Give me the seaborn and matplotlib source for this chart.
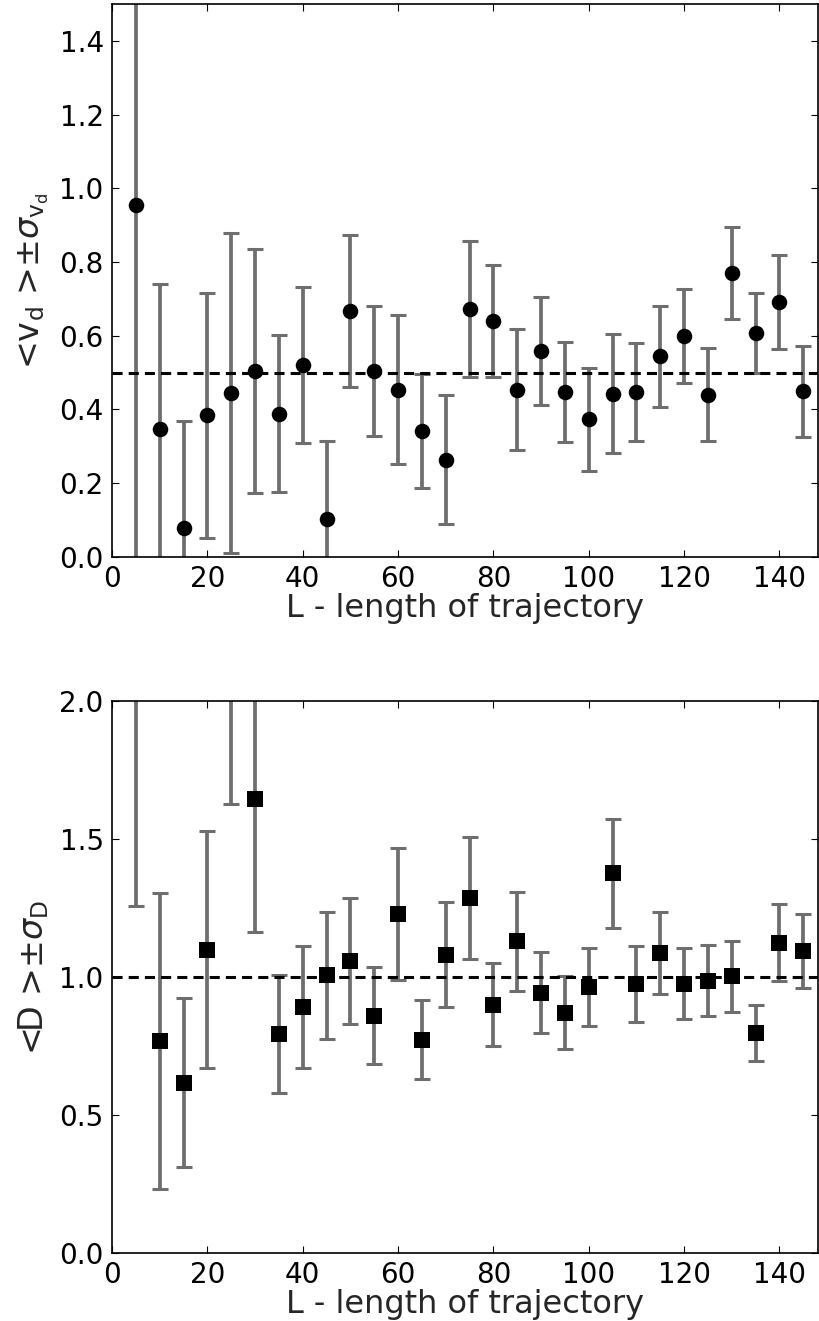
import numpy as np
import pandas as pd
import matplotlib
matplotlib.use('Agg')
import matplotlib.pyplot as plt
import seaborn as sns

# 轨迹长度
L = [5, 10, 15, 20, 25, 30, 35, 40, 45, 50, 55, 60, 65, 70, 75,
     80, 85, 90, 95, 100, 105, 110, 115, 120, 125, 130, 135, 140, 145]

# 上图: <v_d> 及其标准差
vd_mean = [0.955, 0.347, 0.078, 0.384, 0.445, 0.505, 0.389, 0.520, 0.102, 0.667,
           0.505, 0.454, 0.341, 0.263, 0.673, 0.641, 0.453, 0.558, 0.447, 0.373,
           0.443, 0.447, 0.544, 0.600, 0.440, 0.770, 0.607, 0.691, 0.449]
vd_std = [1.100, 0.393, 0.290, 0.333, 0.435, 0.331, 0.213, 0.212, 0.212, 0.206,
          0.177, 0.202, 0.155, 0.175, 0.185, 0.152, 0.164, 0.146, 0.135, 0.140,
          0.162, 0.133, 0.138, 0.128, 0.126, 0.124, 0.109, 0.128, 0.123]

# 下图: <D> 及其标准差
D_mean = [2.400, 0.769, 0.617, 1.099, 2.150, 1.645, 0.794, 0.892, 1.006, 1.058,
          0.859, 1.228, 0.772, 1.080, 1.287, 0.900, 1.129, 0.943, 0.871, 0.964,
          1.375, 0.975, 1.088, 0.976, 0.986, 1.002, 0.797, 1.124, 1.094]
D_std = [1.144, 0.536, 0.307, 0.430, 0.522, 0.483, 0.213, 0.221, 0.231, 0.229,
         0.176, 0.238, 0.143, 0.190, 0.221, 0.150, 0.180, 0.147, 0.132, 0.141,
         0.196, 0.137, 0.148, 0.130, 0.128, 0.130, 0.100, 0.140, 0.133]

sns.set_style('ticks')
plt.rcParams['font.family'] = ['DejaVu Sans']
plt.rcParams['mathtext.fontset'] = 'dejavusans'
plt.rcParams['xtick.direction'] = 'in'
plt.rcParams['ytick.direction'] = 'in'
plt.rcParams['xtick.top'] = True
plt.rcParams['ytick.right'] = True
plt.rcParams['xtick.major.size'] = 5
plt.rcParams['ytick.major.size'] = 5
plt.rcParams['axes.edgecolor'] = 'black'
plt.rcParams['axes.linewidth'] = 1.2
plt.rcParams['xtick.color'] = 'black'
plt.rcParams['ytick.color'] = 'black'

fig = plt.figure(figsize=(8.19, 13.21), dpi=100)
ax1 = fig.add_axes([0.1368, 0.5784, 0.8614, 0.4186])
ax2 = fig.add_axes([0.1368, 0.0515, 0.8614, 0.4179])

panels = [
    (ax1, vd_mean, vd_std, 'o', 0.5, (0, 1.5), np.arange(0, 1.41, 0.2),
     r'<v$_\mathrm{d}$ >$\pm\sigma_{\mathrm{v_d}}$'),
    (ax2, D_mean, D_std, 's', 1.0, (0, 2.0), np.arange(0, 2.01, 0.5),
     r'<D >$\pm\sigma_{\mathrm{D}}$'),
]

for ax, m, s, mk, ref, ylim, yt, ylab in panels:
    df = pd.DataFrame({'L': L, 'mean': m, 'std': s})
    # 误差棒
    ax.errorbar(df['L'], df['mean'], yerr=df['std'], fmt='none', ecolor='#6e6e6e',
                elinewidth=2.7, capsize=5.5, capthick=2.2, zorder=2)
    # 数据点
    sns.scatterplot(data=df, x='L', y='mean', marker=mk, color='black', s=125,
                    edgecolor='black', linewidth=0, ax=ax, zorder=3)
    ax.axhline(ref, color='black', linestyle='--', linewidth=2.2, dashes=(3.3, 2), zorder=4)
    ax.set_xlim(0, 148)
    ax.set_ylim(*ylim)
    ax.set_xticks(range(0, 141, 20))
    ax.set_yticks(yt)
    ax.set_yticklabels(['%.1f' % v for v in yt])
    ax.tick_params(labelsize=20, pad=6)
    ax.set_xlabel('L - length of trajectory', fontsize=23, labelpad=0)
    ax.set_ylabel(ylab, fontsize=24, labelpad=6)

plt.savefig('out.png', dpi=100)
plt.close()
